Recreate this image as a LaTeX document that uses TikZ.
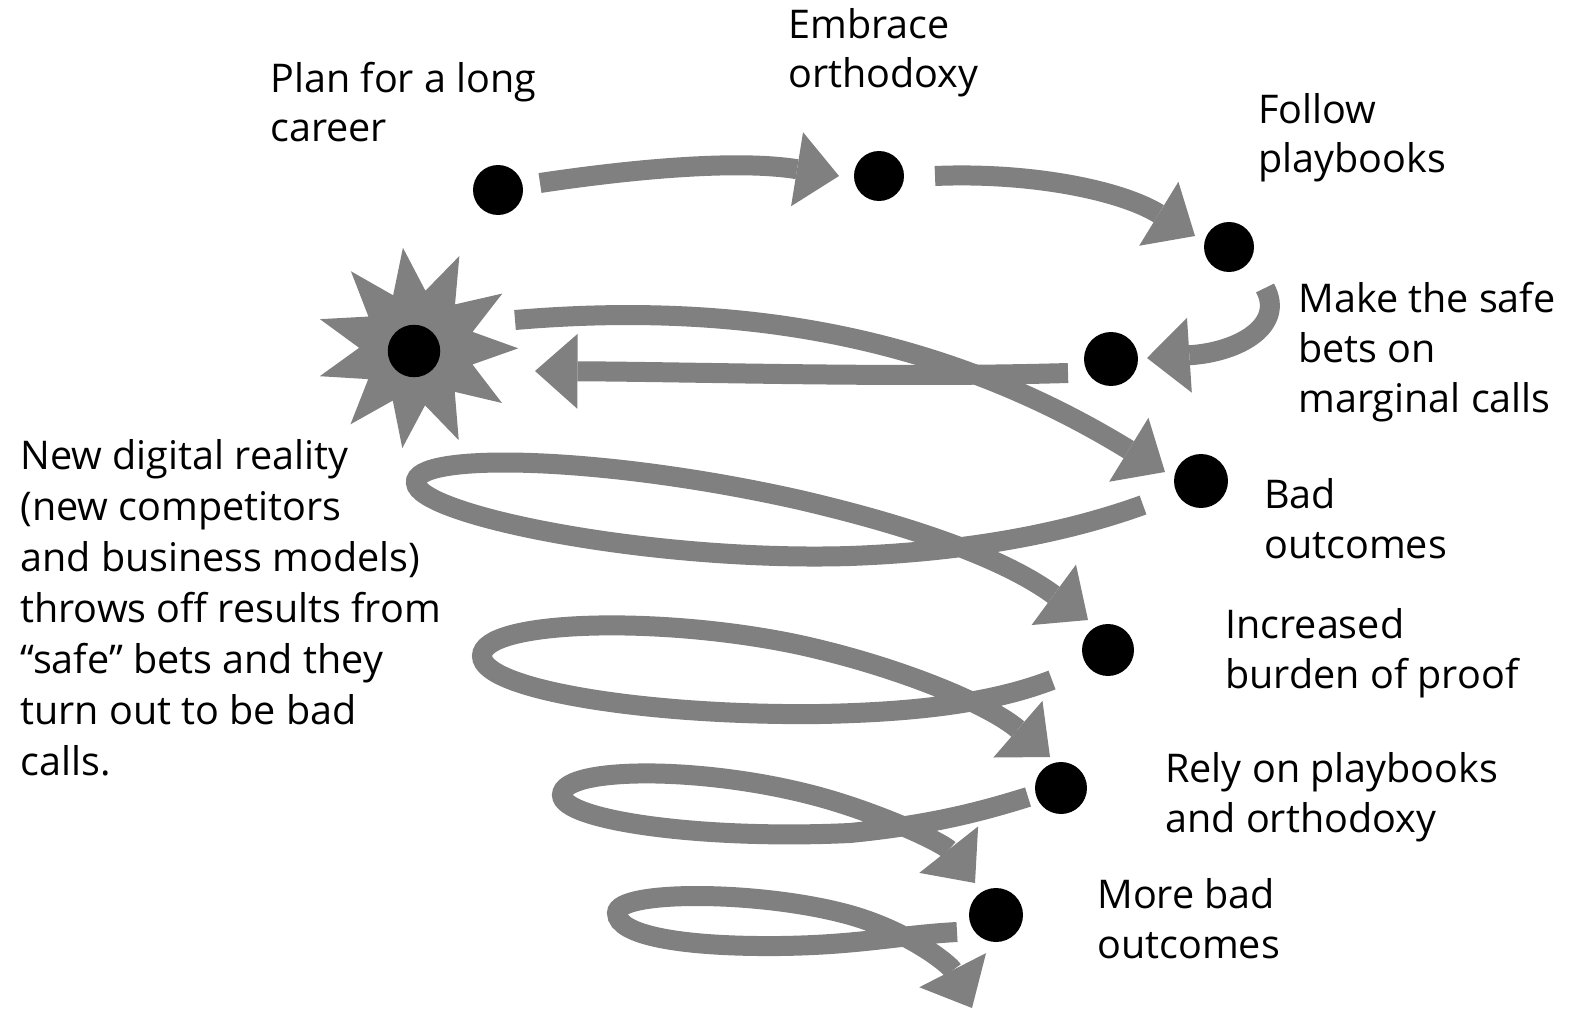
\documentclass[tikz,border=0pt]{standalone}
\usepackage{fontspec}
\setmainfont{Open Sans}
\usetikzlibrary{arrows.meta,shapes.geometric}
\definecolor{arrowgray}{RGB}{128,128,128}
\begin{document}
\begin{tikzpicture}[x=0.02cm,y=-0.02cm,
  dot/.style={circle,fill=black,inner sep=0pt,minimum size=1cm},
  flow/.style={draw=arrowgray,line width=0.4cm,-{Triangle[length=0.85cm,width=1.5cm,line width=0pt]}},
  lbl/.style={anchor=base west,align=left,inner sep=0pt,font=\fontsize{22.5pt}{28.4pt}\selectfont}]
\useasboundingbox[fill=white] (0,0) rectangle (1571,1013);

% burst
\node[star,star points=11,star point ratio=1.75,fill=arrowgray,minimum size=4.05cm,inner sep=0pt,rotate=8] (burst) at (417,348) {};

% dots
\node[dot] (d1) at (498,190) {};
\node[dot] (d2) at (879,176) {};
\node[dot] (d3) at (1229,247) {};
\node[dot,minimum size=1.08cm] (d4) at (1111,359) {};
\node[dot,minimum size=1.05cm] (d0) at (414,351) {};
\node[dot,minimum size=1.08cm] (d5) at (1201,481) {};
\node[dot,minimum size=1.04cm] (d6) at (1108,650) {};
\node[dot,minimum size=1.04cm] (d7) at (1061,788) {};
\node[dot,minimum size=1.08cm] (d8) at (996,915) {};

% connector ends
\coordinate (a1s) at (540,183);  \coordinate (a1e) at (839,176);
\coordinate (a2s) at (935,176);  \coordinate (a2e) at (1195,236);
\coordinate (a3s) at (1265,288); \coordinate (a3e) at (1147,358);
\coordinate (a4s) at (1068,373); \coordinate (a4e) at (535,371);
\coordinate (a5s) at (515,320);  \coordinate (a5e) at (1165,472);
\coordinate (a6s) at (1143,505); \coordinate (a6e) at (1088,620);
\coordinate (a7s) at (1052,680); \coordinate (a7e) at (1050,757);
\coordinate (a8s) at (1028,797); \coordinate (a8e) at (975,883);
\coordinate (a9s) at (957,932);  \coordinate (a9e) at (972,1008);

% connectors
\draw[flow] (a1s) .. controls (640,168) and (740,160) .. (a1e);
\draw[flow] (a2s) .. controls (1030,172) and (1120,190) .. (a2e);
\draw[flow] (a3s) .. controls (1285,325) and (1240,352) .. (a3e);
\draw[flow] (a4s) .. controls (900,378) and (700,372) .. (a4e);
\draw[flow] (a5s) .. controls (750,300) and (950,340) .. (a5e);
\draw[flow] (a6s) .. controls (1060,535) and (960,552) .. (850,556)
  .. controls (650,562) and (418,515) .. (416,483)
  .. controls (412,452) and (600,455) .. (800,500)
  .. controls (950,535) and (1020,570) .. (a6e);
\draw[flow] (a7s) .. controls (1000,700) and (930,712) .. (820,714)
  .. controls (650,716) and (482,690) .. (482,656)
  .. controls (482,620) and (660,615) .. (800,645)
  .. controls (900,667) and (990,705) .. (a7e);
\draw[flow] (a8s) .. controls (980,812) and (930,825) .. (850,833)
  .. controls (700,840) and (562,820) .. (562,795)
  .. controls (562,765) and (720,765) .. (840,803)
  .. controls (900,822) and (945,845) .. (a8e);
\draw[flow] (a9s) .. controls (900,935) and (860,945) .. (780,946)
  .. controls (680,947) and (617,935) .. (617,913)
  .. controls (617,890) and (760,890) .. (850,915)
  .. controls (910,932) and (950,965) .. (a9e);

% labels (anchored at the baseline of their last line)
\node[lbl] (t1) at (270,142) {Plan for a long\\career};
\node[lbl] (t2) at (788,88) {Embrace\\orthodoxy};
\node[lbl] (t3) at (1258,173) {Follow\\playbooks};
\node[lbl] (t4) at (1298,412) {Make the safe\\bets on\\marginal calls};
\node[lbl] (t5) at (1264,558) {Bad\\outcomes};
\node[lbl] (t6) at (1225,688) {Increased\\burden of proof};
\node[lbl] (t7) at (1165,832) {Rely on playbooks\\and orthodoxy};
\node[lbl] (t8) at (1097,958) {More bad\\outcomes};
\node[lbl,font=\fontsize{22.5pt}{29pt}\selectfont] (t0) at (20,775) {New digital reality\\(new competitors\\and business models)\\throws off results from\\“safe” bets and they\\turn out to be bad\\calls.};
\end{tikzpicture}
\end{document}
